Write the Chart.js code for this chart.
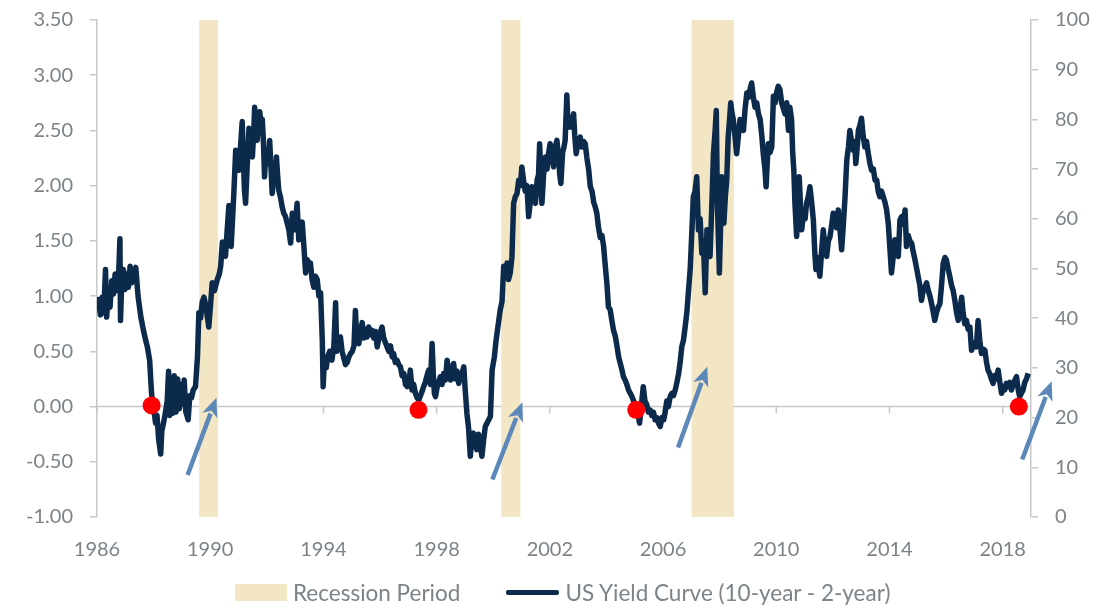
<!DOCTYPE html>
<html>
<head>
<meta charset="utf-8">
<script src="https://cdn.jsdelivr.net/npm/chart.js@4.4.0/dist/chart.umd.min.js"></script>
<style>
html, body { margin: 0; padding: 0; background: #fff; }
#wrap { position: relative; width: 1117px; height: 606px; }
#legend { position: absolute; left: 235px; top: 579px; height: 26px; display: flex; align-items: center;
  font-family: Lato, "Noto Sans", sans-serif; font-size: 22.5px; color: #7b8389; white-space: nowrap; }
#legend .item { display: flex; align-items: center; }
#legend .box { width: 52px; height: 17px; background: #f2e6c4; margin-right: 6px; }
#legend .line { width: 53px; height: 5px; background: #0c2a4c; border-radius: 2px; margin-right: 6px; }
#legend .item + .item { margin-left: 46px; }
</style>
</head>
<body>
<div id="wrap">
  <canvas id="curveChart" width="1117" height="606"></canvas>
  <div id="legend">
    <div class="item"><span class="box"></span><span>Recession Period</span></div>
    <div class="item"><span class="line"></span><span>US Yield Curve (10-year - 2-year)</span></div>
  </div>
</div>
<script>
// tick labels
const yearTicks = [1986, 1990, 1994, 1998, 2002, 2006, 2010, 2014, 2018];

// recession periods (start / end, in years)
const recessionStart = [1989.61, 2000.28, 2007.01];
const recessionEnd   = [1990.28, 2000.96, 2008.50];

// red markers where the curve crosses zero
const crossYears  = [1987.93, 1997.36, 2005.05, 2018.57];
const crossValues = [0.01, -0.03, -0.03, 0.0];

// blue arrows: [year, value] tail -> head
const arrowTail = [[1989.20, -0.62], [1999.97, -0.66], [2006.53, -0.37], [2018.69, -0.48]];
const arrowHead = [[1990.22, 0.08], [2001.03, 0.04], [2007.56, 0.36], [2019.73, 0.23]];

// 10y - 2y spread
const yieldYears = [
  1986.00, 1986.06, 1986.12, 1986.18, 1986.24, 1986.30, 1986.34, 1986.40, 1986.46, 1986.52,
  1986.58, 1986.64, 1986.70, 1986.76, 1986.81, 1986.83, 1986.87, 1986.93, 1986.99, 1987.05,
  1987.11, 1987.17, 1987.23, 1987.30, 1987.37, 1987.45, 1987.55, 1987.65, 1987.72, 1987.78,
  1987.86, 1987.92, 1987.96, 1988.02, 1988.07, 1988.12, 1988.18, 1988.25, 1988.29, 1988.35,
  1988.42, 1988.48, 1988.53, 1988.57, 1988.63, 1988.68, 1988.73, 1988.79, 1988.85, 1988.91,
  1988.97, 1989.03, 1989.08, 1989.14, 1989.22, 1989.28, 1989.34, 1989.40, 1989.48, 1989.55,
  1989.60, 1989.66, 1989.72, 1989.78, 1989.84, 1989.95, 1990.02, 1990.07, 1990.15, 1990.25,
  1990.32, 1990.37, 1990.43, 1990.50, 1990.54, 1990.60, 1990.66, 1990.70, 1990.74, 1990.80,
  1990.84, 1990.90, 1990.96, 1991.01, 1991.07, 1991.13, 1991.17, 1991.21, 1991.25, 1991.31,
  1991.37, 1991.43, 1991.49, 1991.54, 1991.57, 1991.62, 1991.66, 1991.71, 1991.75, 1991.80,
  1991.84, 1991.88, 1991.92, 1991.96, 1991.99, 1992.05, 1992.10, 1992.15, 1992.19, 1992.25,
  1992.30, 1992.34, 1992.38, 1992.42, 1992.48, 1992.54, 1992.60, 1992.66, 1992.72, 1992.78,
  1992.84, 1992.90, 1992.96, 1993.02, 1993.07, 1993.13, 1993.19, 1993.25, 1993.31, 1993.37,
  1993.43, 1993.50, 1993.54, 1993.60, 1993.66, 1993.72, 1993.78, 1993.84, 1993.90, 1993.96,
  1993.99, 1994.04, 1994.10, 1994.15, 1994.22, 1994.30, 1994.37, 1994.43, 1994.47, 1994.54,
  1994.60, 1994.66, 1994.72, 1994.78, 1994.84, 1994.90, 1994.96, 1995.02, 1995.08, 1995.13,
  1995.18, 1995.25, 1995.31, 1995.37, 1995.43, 1995.49, 1995.54, 1995.60, 1995.66, 1995.72,
  1995.78, 1995.84, 1995.90, 1995.96, 1996.02, 1996.07, 1996.13, 1996.19, 1996.25, 1996.31,
  1996.37, 1996.43, 1996.48, 1996.54, 1996.60, 1996.66, 1996.72, 1996.78, 1996.84, 1996.90,
  1996.96, 1997.02, 1997.07, 1997.13, 1997.19, 1997.25, 1997.31, 1997.37, 1997.43, 1997.49,
  1997.54, 1997.60, 1997.66, 1997.72, 1997.78, 1997.84, 1997.88, 1997.92, 1997.96, 1998.02,
  1998.07, 1998.13, 1998.19, 1998.25, 1998.31, 1998.37, 1998.43, 1998.49, 1998.54, 1998.60,
  1998.66, 1998.72, 1998.78, 1998.84, 1998.90, 1998.96, 1999.01, 1999.07, 1999.13, 1999.19,
  1999.24, 1999.30, 1999.36, 1999.42, 1999.48, 1999.54, 1999.60, 1999.66, 1999.72, 1999.78,
  1999.84, 1999.90, 1999.96, 2000.04, 2000.10, 2000.18, 2000.25, 2000.31, 2000.37, 2000.43,
  2000.49, 2000.54, 2000.60, 2000.66, 2000.72, 2000.78, 2000.84, 2000.90, 2000.96, 2001.01,
  2001.07, 2001.13, 2001.19, 2001.25, 2001.31, 2001.37, 2001.43, 2001.49, 2001.55, 2001.60,
  2001.64, 2001.68, 2001.72, 2001.78, 2001.84, 2001.90, 2001.96, 2002.01, 2002.07, 2002.13,
  2002.19, 2002.25, 2002.31, 2002.35, 2002.39, 2002.45, 2002.50, 2002.54, 2002.60, 2002.64,
  2002.68, 2002.72, 2002.78, 2002.84, 2002.88, 2002.93, 2003.00, 2003.07, 2003.13, 2003.19,
  2003.25, 2003.31, 2003.37, 2003.43, 2003.49, 2003.55, 2003.60, 2003.66, 2003.72, 2003.78,
  2003.84, 2003.90, 2003.96, 2004.02, 2004.07, 2004.13, 2004.19, 2004.25, 2004.31, 2004.37,
  2004.43, 2004.49, 2004.55, 2004.60, 2004.66, 2004.72, 2004.78, 2004.84, 2004.90, 2004.96,
  2005.02, 2005.07, 2005.12, 2005.17, 2005.23, 2005.30, 2005.36, 2005.42, 2005.48, 2005.54,
  2005.60, 2005.66, 2005.72, 2005.78, 2005.84, 2005.90, 2005.96, 2006.02, 2006.07, 2006.13,
  2006.19, 2006.25, 2006.31, 2006.37, 2006.43, 2006.49, 2006.55, 2006.60, 2006.66, 2006.72,
  2006.78, 2006.84, 2006.90, 2006.96, 2007.01, 2007.07, 2007.13, 2007.19, 2007.25, 2007.31,
  2007.37, 2007.43, 2007.49, 2007.55, 2007.60, 2007.66, 2007.72, 2007.78, 2007.84, 2007.88,
  2007.92, 2007.99, 2008.03, 2008.07, 2008.11, 2008.15, 2008.20, 2008.25, 2008.30, 2008.35,
  2008.39, 2008.44, 2008.48, 2008.54, 2008.60, 2008.66, 2008.72, 2008.78, 2008.84, 2008.90,
  2008.96, 2009.02, 2009.08, 2009.13, 2009.19, 2009.25, 2009.31, 2009.37, 2009.43, 2009.49,
  2009.54, 2009.60, 2009.64, 2009.68, 2009.72, 2009.78, 2009.84, 2009.90, 2009.96, 2010.02,
  2010.07, 2010.13, 2010.19, 2010.25, 2010.31, 2010.37, 2010.43, 2010.48, 2010.54, 2010.58,
  2010.62, 2010.66, 2010.72, 2010.77, 2010.81, 2010.86, 2010.90, 2010.96, 2011.02, 2011.07,
  2011.13, 2011.19, 2011.25, 2011.31, 2011.36, 2011.40, 2011.46, 2011.50, 2011.54, 2011.60,
  2011.66, 2011.72, 2011.78, 2011.84, 2011.90, 2011.96, 2012.01, 2012.07, 2012.13, 2012.19,
  2012.25, 2012.31, 2012.37, 2012.43, 2012.49, 2012.55, 2012.60, 2012.66, 2012.72, 2012.77,
  2012.81, 2012.86, 2012.90, 2012.96, 2013.01, 2013.07, 2013.13, 2013.19, 2013.25, 2013.31,
  2013.37, 2013.43, 2013.49, 2013.55, 2013.60, 2013.66, 2013.72, 2013.78, 2013.84, 2013.90,
  2013.96, 2014.01, 2014.07, 2014.13, 2014.19, 2014.25, 2014.31, 2014.37, 2014.43, 2014.49,
  2014.55, 2014.60, 2014.66, 2014.72, 2014.78, 2014.84, 2014.90, 2014.96, 2015.01, 2015.07,
  2015.13, 2015.19, 2015.25, 2015.31, 2015.37, 2015.43, 2015.49, 2015.55, 2015.60, 2015.66,
  2015.72, 2015.78, 2015.84, 2015.90, 2015.96, 2016.01, 2016.07, 2016.13, 2016.19, 2016.25,
  2016.31, 2016.37, 2016.43, 2016.49, 2016.55, 2016.60, 2016.66, 2016.72, 2016.78, 2016.84,
  2016.90, 2016.96, 2017.02, 2017.07, 2017.13, 2017.19, 2017.25, 2017.31, 2017.37, 2017.43,
  2017.48, 2017.54, 2017.60, 2017.66, 2017.72, 2017.78, 2017.84, 2017.90, 2017.96, 2018.02,
  2018.07, 2018.13, 2018.19, 2018.25, 2018.31, 2018.37, 2018.43, 2018.49, 2018.55, 2018.60,
  2018.66, 2018.72, 2018.78, 2018.84, 2018.90
];
const yieldSpread = [
  0.88, 0.97, 0.83, 0.99, 0.85, 1.24, 0.81, 1.03, 0.90, 1.14,
  1.02, 1.20, 1.05, 1.16, 1.52, 0.78, 1.10, 1.24, 1.06, 1.20,
  1.08, 1.27, 1.12, 1.22, 1.26, 1.00, 0.81, 0.68, 0.60, 0.54,
  0.42, 0.15, 0.02, -0.05, -0.15, -0.08, -0.30, -0.43, -0.22, -0.15,
  -0.05, 0.05, 0.32, -0.08, 0.25, -0.06, 0.28, -0.05, 0.25, -0.02,
  0.20, 0.02, 0.24, -0.05, -0.12, 0.10, 0.08, 0.15, 0.18, 0.45,
  0.85, 0.80, 0.95, 0.99, 0.92, 0.72, 0.95, 1.12, 1.05, 1.15,
  1.20, 1.27, 1.49, 1.40, 1.36, 1.60, 1.82, 1.62, 1.45, 1.75,
  1.96, 2.32, 2.20, 2.14, 2.35, 2.58, 2.25, 1.96, 1.84, 2.20,
  2.52, 2.38, 2.26, 2.50, 2.71, 2.50, 2.41, 2.60, 2.67, 2.55,
  2.60, 2.40, 2.08, 2.30, 2.26, 2.20, 2.41, 2.15, 1.93, 2.10,
  2.05, 2.26, 2.10, 1.96, 1.90, 1.81, 1.75, 1.72, 1.66, 1.60,
  1.48, 1.75, 1.60, 1.70, 1.84, 1.51, 1.60, 1.67, 1.45, 1.21,
  1.33, 1.25, 1.30, 1.15, 1.08, 1.18, 1.15, 1.00, 1.03, 0.60,
  0.18, 0.45, 0.35, 0.45, 0.50, 0.42, 0.55, 0.94, 0.50, 0.57,
  0.63, 0.50, 0.44, 0.38, 0.40, 0.45, 0.48, 0.50, 0.55, 0.87,
  0.60, 0.57, 0.68, 0.76, 0.62, 0.70, 0.63, 0.72, 0.65, 0.69,
  0.62, 0.68, 0.54, 0.62, 0.68, 0.72, 0.62, 0.58, 0.54, 0.50,
  0.55, 0.45, 0.48, 0.40, 0.42, 0.38, 0.36, 0.28, 0.30, 0.20,
  0.18, 0.22, 0.33, 0.15, 0.20, 0.12, 0.08, 0.06, 0.10, 0.14,
  0.18, 0.22, 0.28, 0.33, 0.20, 0.57, 0.30, 0.12, 0.09, 0.18,
  0.22, 0.27, 0.20, 0.30, 0.24, 0.42, 0.30, 0.24, 0.34, 0.39,
  0.25, 0.32, 0.21, 0.28, 0.30, 0.36, 0.15, -0.06, -0.20, -0.45,
  -0.30, -0.24, -0.32, -0.39, -0.25, -0.35, -0.45, -0.30, -0.18, -0.15,
  -0.12, -0.09, 0.33, 0.45, 0.60, 0.75, 0.88, 0.95, 1.27, 1.20,
  1.30, 1.15, 1.21, 1.35, 1.84, 1.90, 1.93, 2.05, 2.00, 2.17,
  2.05, 1.95, 2.00, 1.72, 1.85, 1.99, 1.90, 1.84, 2.05, 2.10,
  2.38, 2.05, 1.84, 2.10, 2.26, 2.15, 2.30, 2.38, 2.28, 2.17,
  2.35, 2.41, 2.25, 2.10, 2.02, 2.30, 2.35, 2.41, 2.82, 2.55,
  2.60, 2.53, 2.58, 2.65, 2.45, 2.29, 2.40, 2.44, 2.35, 2.40,
  2.38, 2.25, 2.15, 1.99, 1.95, 1.85, 1.81, 1.75, 1.62, 1.53,
  1.55, 1.45, 1.27, 1.10, 0.90, 0.88, 0.78, 0.69, 0.64, 0.55,
  0.45, 0.39, 0.33, 0.27, 0.24, 0.20, 0.15, 0.12, 0.09, 0.05,
  0.00, -0.03, -0.08, -0.15, 0.00, 0.18, 0.05, 0.02, -0.05, -0.03,
  -0.08, -0.05, -0.12, -0.10, -0.15, -0.18, -0.10, -0.12, -0.06, 0.05,
  0.00, 0.09, 0.12, 0.10, 0.15, 0.22, 0.30, 0.39, 0.54, 0.60,
  0.72, 0.85, 1.05, 1.25, 1.54, 1.90, 1.95, 2.08, 1.60, 1.70,
  1.39, 1.45, 1.03, 1.60, 1.40, 1.36, 1.80, 2.29, 2.50, 2.68,
  1.84, 1.21, 1.60, 2.08, 1.85, 1.66, 1.90, 2.05, 2.44, 2.60,
  2.75, 2.65, 2.60, 2.45, 2.29, 2.45, 2.60, 2.55, 2.50, 2.70,
  2.84, 2.80, 2.88, 2.93, 2.80, 2.71, 2.75, 2.65, 2.60, 2.45,
  2.29, 2.15, 1.99, 2.20, 2.38, 2.30, 2.35, 2.81, 2.75, 2.85,
  2.90, 2.87, 2.75, 2.70, 2.65, 2.75, 2.50, 2.71, 2.60, 2.30,
  2.14, 1.84, 1.54, 1.80, 2.08, 1.80, 1.60, 1.75, 1.70, 1.84,
  1.90, 1.99, 1.85, 1.69, 1.40, 1.24, 1.35, 1.25, 1.18, 1.40,
  1.60, 1.45, 1.36, 1.50, 1.54, 1.65, 1.75, 1.70, 1.62, 1.78,
  1.60, 1.42, 1.65, 1.90, 2.23, 2.35, 2.50, 2.40, 2.32, 2.40,
  2.20, 2.35, 2.50, 2.55, 2.61, 2.45, 2.35, 2.40, 2.29, 2.20,
  2.14, 2.15, 2.05, 2.05, 1.95, 1.90, 1.95, 1.90, 1.85, 1.78,
  1.65, 1.45, 1.21, 1.35, 1.51, 1.40, 1.36, 1.69, 1.72, 1.65,
  1.78, 1.45, 1.55, 1.50, 1.48, 1.40, 1.33, 1.25, 1.18, 1.10,
  0.96, 1.05, 1.08, 1.12, 1.05, 1.00, 0.93, 0.85, 0.78, 0.85,
  0.90, 0.93, 1.10, 1.30, 1.35, 1.33, 1.25, 1.18, 1.10, 1.05,
  0.96, 0.85, 0.78, 0.88, 0.99, 0.85, 0.75, 0.78, 0.70, 0.72,
  0.51, 0.55, 0.58, 0.54, 0.78, 0.60, 0.48, 0.52, 0.51, 0.40,
  0.33, 0.30, 0.25, 0.21, 0.28, 0.25, 0.33, 0.22, 0.12, 0.18,
  0.15, 0.21, 0.18, 0.22, 0.15, 0.20, 0.24, 0.27, 0.15, 0.09,
  0.12, 0.15, 0.22, 0.25, 0.30
];

const textColor = '#7b8389';
const axisColor = '#c8c8c8';
const lineColor = '#0c2a4c';
const bandColor = '#f2e6c4';
const arrowColor = '#5b88b8';
const fontFamily = 'Lato, "Noto Sans", sans-serif';

const backdrop = {
  id: 'backdrop',
  beforeDatasetsDraw(chart) {
    const {ctx, chartArea, scales: {x, y}} = chart;
    const y0 = y.getPixelForValue(0);
    ctx.save();
    ctx.strokeStyle = axisColor;
    ctx.lineWidth = 1.5;
    ctx.beginPath();
    ctx.moveTo(chartArea.left, y0);
    ctx.lineTo(chartArea.right, y0);
    yearTicks.forEach(t => {
      const px = x.getPixelForValue(t);
      ctx.moveTo(px, y0);
      ctx.lineTo(px, y0 + 7);
    });
    ctx.stroke();
    ctx.fillStyle = bandColor;
    recessionStart.forEach((s, i) => {
      const a = x.getPixelForValue(s);
      const b = x.getPixelForValue(recessionEnd[i]);
      ctx.fillRect(a, chartArea.top, b - a, chartArea.bottom - chartArea.top);
    });
    ctx.restore();
  }
};

const arrows = {
  id: 'arrows',
  afterDatasetsDraw(chart) {
    const {ctx, scales: {x, y}} = chart;
    ctx.save();
    ctx.strokeStyle = arrowColor;
    ctx.fillStyle = arrowColor;
    ctx.lineWidth = 4.5;
    arrowTail.forEach((t, i) => {
      const x1 = x.getPixelForValue(t[0]), y1 = y.getPixelForValue(t[1]);
      const x2 = x.getPixelForValue(arrowHead[i][0]), y2 = y.getPixelForValue(arrowHead[i][1]);
      const ang = Math.atan2(y2 - y1, x2 - x1);
      const len = 19, half = 8;
      const bx = x2 - Math.cos(ang) * len, by = y2 - Math.sin(ang) * len;
      ctx.beginPath();
      ctx.moveTo(x1, y1);
      ctx.lineTo(bx + Math.cos(ang) * 2, by + Math.sin(ang) * 2);
      ctx.stroke();
      ctx.beginPath();
      ctx.moveTo(x2, y2);
      ctx.lineTo(bx + Math.sin(ang) * half, by - Math.cos(ang) * half);
      ctx.lineTo(bx + Math.cos(ang) * 5, by + Math.sin(ang) * 5);
      ctx.lineTo(bx - Math.sin(ang) * half, by + Math.cos(ang) * half);
      ctx.closePath();
      ctx.fill();
    });
    ctx.restore();
  }
};

// keep the plot area edges where the reference has them
const noLabelPadding = s => { s.paddingTop = 0; s.paddingBottom = 0; };

const ctx = document.getElementById('curveChart').getContext('2d');
new Chart(ctx, {
  type: 'line',
  data: {
    datasets: [{
      type: 'scatter',
      label: 'Zero crossing',
      data: crossYears.map((v, i) => ({x: v, y: crossValues[i]})),
      backgroundColor: '#ff0000',
      borderWidth: 0,
      pointRadius: 9,
      pointHoverRadius: 9,
      order: 0
    }, {
      label: 'US Yield Curve (10-year - 2-year)',
      data: yieldYears.map((v, i) => ({x: v, y: yieldSpread[i]})),
      borderColor: lineColor,
      borderWidth: 5.5,
      borderJoinStyle: 'round',
      pointRadius: 0,
      tension: 0,
      fill: false,
      order: 1
    }]
  },
  options: {
    responsive: false,
    animation: false,
    devicePixelRatio: 1,
    layout: { padding: { top: 20, bottom: 0, left: 0, right: 0 } },
    plugins: {
      tooltip: { enabled: false },
      legend: { display: false }
    },
    scales: {
      x: {
        type: 'linear',
        min: 1986,
        max: 2019,
        afterBuildTicks: s => { s.ticks = yearTicks.map(v => ({value: v})); },
        afterFit: s => { s.height = 89; },
        grid: { display: false },
        border: { display: false },
        ticks: { color: textColor, font: { family: fontFamily, size: 20 }, padding: 13, maxRotation: 0, callback: v => String(v) }
      },
      y: {
        position: 'left',
        min: -1,
        max: 3.5,
        afterFit: s => { s.width = 97; noLabelPadding(s); },
        grid: { drawOnChartArea: false, color: axisColor, lineWidth: 1.5, tickLength: 7 },
        border: { color: axisColor, width: 1.5 },
        ticks: { stepSize: 0.5, color: textColor, font: { family: fontFamily, size: 20 }, padding: 17, callback: v => v.toFixed(2) }
      },
      y2: {
        position: 'right',
        min: 0,
        max: 100,
        afterFit: s => { s.width = 86; noLabelPadding(s); },
        grid: { drawOnChartArea: false, color: axisColor, lineWidth: 1.5, tickLength: 7 },
        border: { color: axisColor, width: 1.5 },
        ticks: { stepSize: 10, color: textColor, font: { family: fontFamily, size: 20 }, padding: 17 }
      }
    }
  },
  plugins: [backdrop, arrows]
});
</script>
</body>
</html>
